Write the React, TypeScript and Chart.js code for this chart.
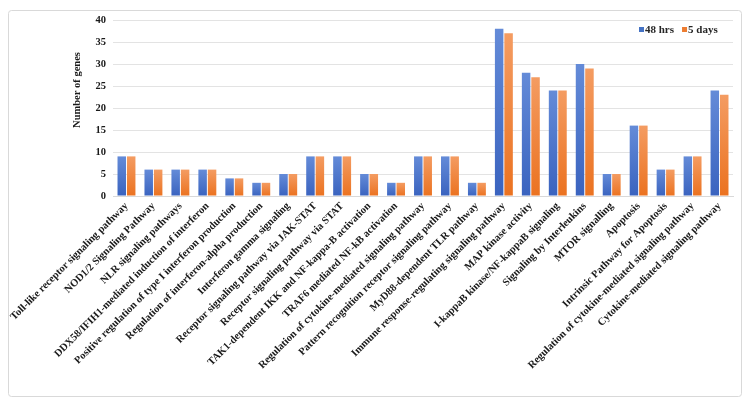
import React, { useEffect, useRef } from "react";
import { Chart, registerables } from "chart.js";

Chart.register(...registerables);

const categories = [
  "Toll-like receptor signaling pathway",
  "NOD1/2 Signaling Pathway",
  "NLR signaling pathways",
  "DDX58/IFIH1-mediated induction of interferon",
  "Positive regulation of type I interferon production",
  "Regulation of interferon-alpha production",
  "Interferon gamma signaling",
  "Receptor signaling pathway via JAK-STAT",
  "Receptor signaling pathway via STAT",
  "TAK1-dependent IKK and NF-kappa-B activation",
  "TRAF6 mediated NF-kB activation",
  "Regulation of cytokine-mediated signaling pathway",
  "Pattern recognition receptor signaling pathway",
  "MyD88-dependent TLR pathway",
  "Immune response-regulating signaling pathway",
  "MAP kinase activity",
  "I-kappaB kinase/NF-kappaB signaling",
  "Signaling by Interleukins",
  "MTOR signalling",
  "Apoptosis",
  "Intrinsic Pathway for Apoptosis",
  "Regulation of cytokine-mediated signaling pathway",
  "Cytokine-mediated signaling pathway",
];

const hrs48 = [9, 6, 6, 6, 4, 3, 5, 9, 9, 5, 3, 9, 9, 3, 38, 28, 24, 30, 5, 16, 6, 9, 24];
const days5 = [9, 6, 6, 6, 4, 3, 5, 9, 9, 5, 3, 9, 9, 3, 37, 27, 24, 29, 5, 16, 6, 9, 23];

const seriesNames = ["48 hrs", "5 days"];
const yTitle = "Number of genes";
const yMin = 0;
const yMax = 40;
const yStep = 5;

const FONT = "'Liberation Serif', 'Times New Roman', serif";
const BLUE = ["#648bd8", "#3a63bf"];
const ORANGE = ["#f49c62", "#eb7220"];
const SWATCH = ["#4472c4", "#ed7d31"];

// Vertical gradient per bar, from its top down to the baseline
function barGradient(colors: string[]) {
  return (ctx: any) => {
    const chart = ctx.chart;
    const y = chart.scales?.y;
    if (!y || ctx.raw == null) return colors[1];
    const top = y.getPixelForValue(ctx.raw);
    const base = y.getPixelForValue(0);
    if (!isFinite(top) || !isFinite(base) || top === base) return colors[1];
    const g = chart.ctx.createLinearGradient(0, top, 0, base);
    g.addColorStop(0, colors[0]);
    g.addColorStop(1, colors[1]);
    return g;
  };
}

// Outer rounded frame, y-axis title and the in-plot legend
const decorations = {
  id: "decorations",
  beforeDraw(chart: any) {
    const c = chart.ctx;
    c.save();
    c.fillStyle = "#ffffff";
    c.fillRect(0, 0, chart.width, chart.height);
    c.strokeStyle = "#d9d9d9";
    c.lineWidth = 1;
    c.beginPath();
    c.roundRect(8.5, 10.5, 733, 386, 3);
    c.stroke();
    c.restore();
  },
  afterDraw(chart: any) {
    const c = chart.ctx;
    c.save();
    c.font = `bold 10.5px ${FONT}`;
    c.fillStyle = "#1a1a1a";
    c.textAlign = "center";
    c.textBaseline = "middle";
    c.translate(77, 90);
    c.rotate(-Math.PI / 2);
    c.fillText(yTitle, 0, 0);
    c.restore();

    c.save();
    c.font = `bold 11px ${FONT}`;
    c.textBaseline = "middle";
    c.textAlign = "left";
    const y = 30;
    let x = 639;
    seriesNames.forEach((name, i) => {
      c.fillStyle = SWATCH[i];
      c.fillRect(x, y - 3, 5, 5);
      c.fillStyle = "#262626";
      c.fillText(name, x + 6, y);
      x += 6 + c.measureText(name).width + 8;
    });
    c.restore();
  },
};

export default function App() {
  const ref = useRef<HTMLCanvasElement | null>(null);

  useEffect(() => {
    if (!ref.current) return;
    const chart = new Chart(ref.current, {
      type: "bar",
      data: {
        labels: categories,
        datasets: [
          {
            label: seriesNames[0],
            data: hrs48,
            backgroundColor: barGradient(BLUE) as any,
            categoryPercentage: 0.7,
            barPercentage: 0.9,
          },
          {
            label: seriesNames[1],
            data: days5,
            backgroundColor: barGradient(ORANGE) as any,
            categoryPercentage: 0.7,
            barPercentage: 0.9,
          },
        ],
      },
      options: {
        responsive: false,
        animation: false,
        devicePixelRatio: 1,
        layout: { padding: { top: 20, right: 17, bottom: 0, left: 60 } },
        plugins: {
          legend: { display: false },
          tooltip: { enabled: false },
        },
        scales: {
          x: {
            grid: { display: false, drawTicks: false },
            border: { display: true, color: "#d9d9d9" },
            ticks: {
              autoSkip: false,
              minRotation: 45,
              maxRotation: 45,
              padding: 4,
              color: "#1a1a1a",
              font: { family: FONT, size: 10.5, weight: "bold" },
            },
            afterFit: (scale: any) => {
              scale.height = 211;
            },
          },
          y: {
            min: yMin,
            max: yMax,
            ticks: {
              stepSize: yStep,
              padding: 7,
              color: "#1a1a1a",
              font: { family: FONT, size: 10.5, weight: "bold" },
            },
            grid: { color: "#e3e3e3", drawTicks: false },
            border: { display: false },
            afterFit: (scale: any) => {
              scale.width = 53;
            },
          },
        },
      },
      plugins: [decorations],
    });
    return () => chart.destroy();
  }, []);

  return (
    <div
      style={{
        position: "fixed",
        left: 0,
        top: 0,
        width: 750,
        height: 407,
        background: "#ffffff",
      }}
    >
      <canvas ref={ref} width={750} height={407} style={{ display: "block" }} />
    </div>
  );
}
